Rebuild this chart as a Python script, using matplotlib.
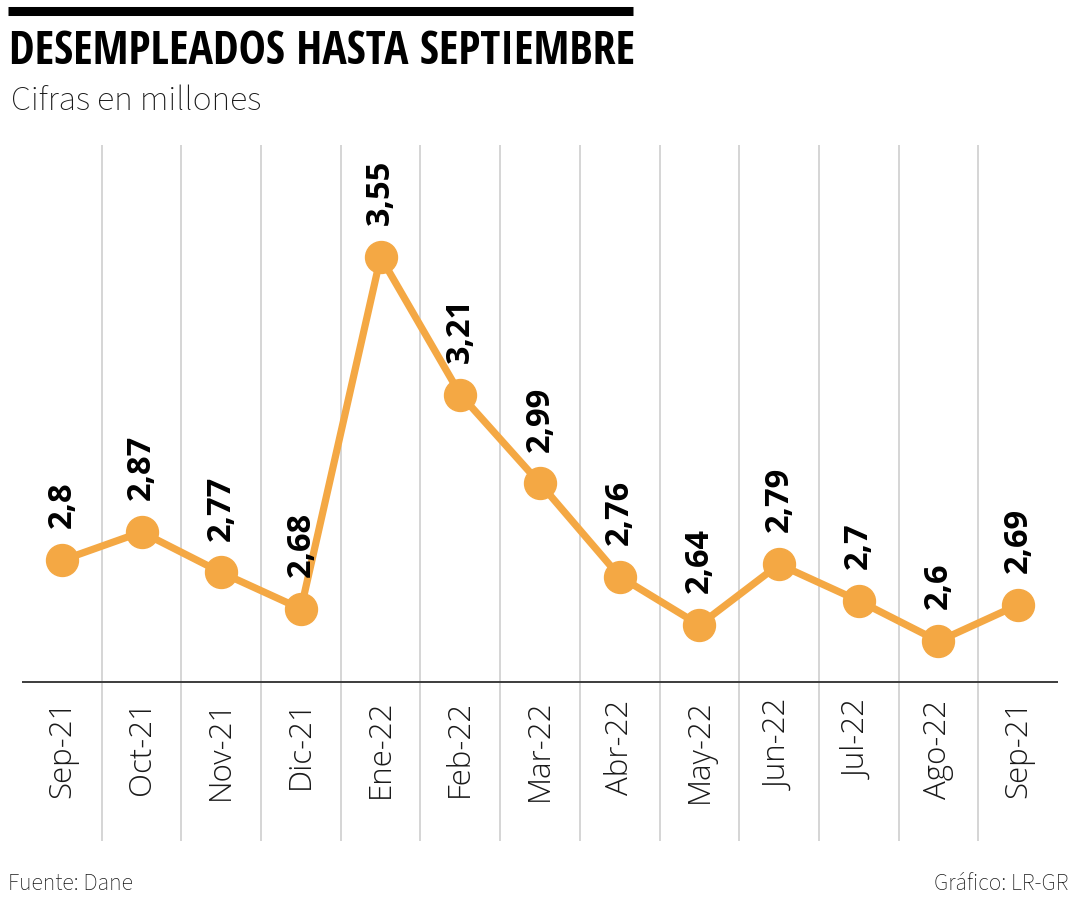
import matplotlib
matplotlib.use("Agg")
import matplotlib.pyplot as plt
from matplotlib.lines import Line2D

months = ["Sep-21", "Oct-21", "Nov-21", "Dic-21", "Ene-22", "Feb-22", "Mar-22",
          "Abr-22", "May-22", "Jun-22", "Jul-22", "Ago-22", "Sep-21"]
values = [2.8, 2.87, 2.77, 2.68, 3.55, 3.21, 2.99, 2.76, 2.64, 2.79, 2.7, 2.6, 2.69]
value_labels = ["2,8", "2,87", "2,77", "2,68", "3,55", "3,21", "2,99",
                "2,76", "2,64", "2,79", "2,7", "2,6", "2,69"]

title = "DESEMPLEADOS HASTA SEPTIEMBRE"
subtitle = "Cifras en millones"
source = "Fuente: Dane"
credit = "Gráfico: LR-GR"

SANS = ["Source Sans 3", "Source Sans Pro", "Open Sans", "DejaVu Sans"]
OPEN = ["Open Sans", "DejaVu Sans"]
COND = ["Open Sans Condensed", "Roboto Condensed", "DejaVu Sans"]

W, H = 1080, 900
fig = plt.figure(figsize=(W / 100, H / 100), dpi=100)
fig.patch.set_facecolor("white")

ORANGE = "#F4A844"

# axes: x from 22 to 1058 px, y from 145 to 841 px (top-down)
ax = fig.add_axes([22 / W, 1 - 841 / H, (1058 - 22) / W, (841 - 145) / H])
ax.set_xlim(-0.5, len(values) - 0.5)
ax.set_ylim(2.106, 3.827)
ax.axis("off")

x = list(range(len(values)))
for i in range(len(values) - 1):
    ax.axvline(i + 0.5, color="#cacaca", lw=1.1, zorder=1)
ax.axhline(2.5, color="#3c3c3c", lw=1.4, zorder=2)

ax.plot(x, values, color=ORANGE, lw=5.2, marker="o", markersize=23,
        markerfacecolor=ORANGE, markeredgecolor=ORANGE, zorder=3,
        solid_joinstyle="round")

for xi, v, lab in zip(x, values, value_labels):
    ax.annotate(lab, (xi, v), xytext=(0, 23), textcoords="offset points",
                rotation=90, ha="center", va="bottom", fontsize=23.5,
                fontweight="bold", family=OPEN, color="black", zorder=4)

for xi, m in zip(x, months):
    ax.annotate(m, (xi, 2.5), xytext=(0, -13), textcoords="offset points",
                rotation=90, ha="center", va="top", fontsize=22.5,
                family=OPEN, fontweight="light", color="#1a1a1a", zorder=4)

# header bar
fig.add_artist(Line2D([8 / W, 633 / W], [1 - 10.5 / H, 1 - 10.5 / H],
                      color="black", lw=6.5, solid_capstyle="butt"))
fig.text(9 / W, 1 - 51 / H, title, ha="left", va="center", fontsize=33,
         fontweight="bold", family=COND, fontstretch="condensed", color="black")
fig.text(11 / W, 1 - 101 / H, subtitle, ha="left", va="center", fontsize=25.5,
         family=SANS, fontweight="light", color="#1a1a1a")
fig.text(8 / W, 1 - 884 / H, source, ha="left", va="center", fontsize=17,
         family=SANS, fontweight="light", color="#1a1a1a")
fig.text(1068 / W, 1 - 884 / H, credit, ha="right", va="center", fontsize=17,
         family=SANS, fontweight="light", color="#1a1a1a")

fig.savefig("out.png", dpi=100, facecolor="white")
